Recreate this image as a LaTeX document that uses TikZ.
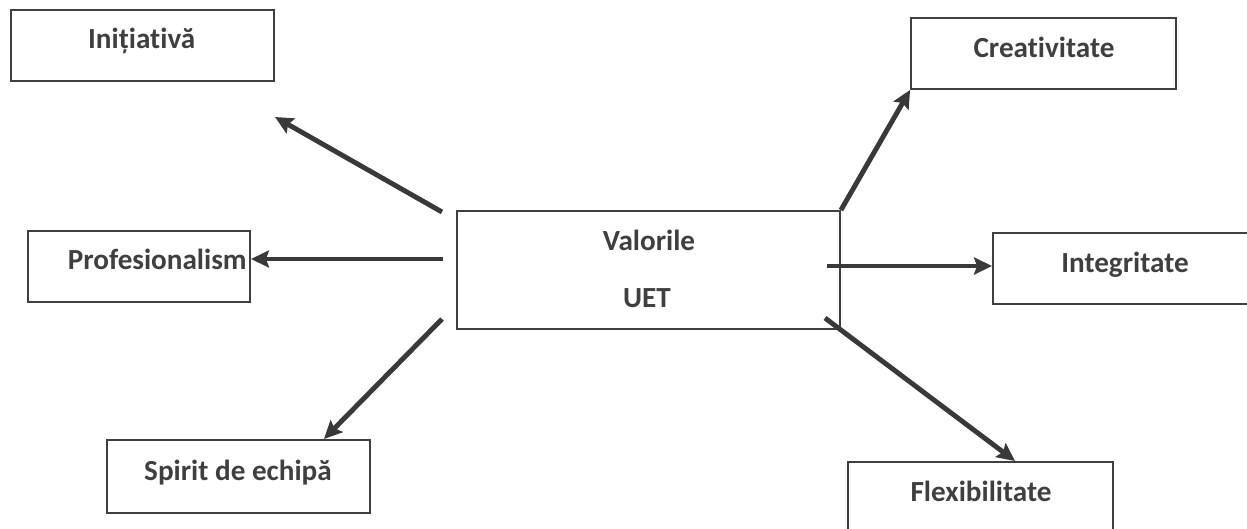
\documentclass[tikz,border=0pt]{standalone}
\usepackage{fontspec}
\setmainfont{Carlito}[Ligatures=NoCommon]
\usetikzlibrary{arrows.meta}
\definecolor{inkgray}{HTML}{3F3F3F}
\tikzset{
    valbox/.style={draw=inkgray, line width=1.1pt, fill=none, inner sep=0pt},
    valtext/.style={anchor=base, text=inkgray, font=\fontsize{16.6}{20}\selectfont\bfseries, inner sep=0pt},
    valarrow/.style={draw=inkgray!90!black, line width=2.8pt, -{Stealth[length=3.6mm,width=3.4mm,inset=0.6mm]}}
}

\begin{document}
\begin{tikzpicture}[x=0.02cm,y=-0.02cm]
    \useasboundingbox (0,0) rectangle (1247,528);
    \clip (0,0) rectangle (1247,528);
    \node[valbox, minimum width=5.26cm, minimum height=1.42cm] (init) at (142.5,45.5) {};
    \node[valbox, minimum width=5.30cm, minimum height=1.42cm] (creat) at (1043.5,53.5) {};
    \node[valbox, minimum width=4.44cm, minimum height=1.42cm] (prof) at (139,266.5) {};
    \node[valbox, minimum width=7.66cm, minimum height=2.36cm] (uet) at (648.5,270) {};
    \node[valbox, minimum width=5.40cm, minimum height=1.42cm] (integ) at (1128,268.5) {};
    \node[valbox, minimum width=5.26cm, minimum height=1.46cm] (spirit) at (238.5,476.5) {};
    \node[valbox, minimum width=5.30cm, minimum height=1.42cm] (flex) at (980.5,497.5) {};
    \node[valtext] (initTxt) at (141.7,48) {Inițiativă};
    \node[valtext] (creatTxt) at (1044,57) {Creativitate};
    \node[valtext, anchor=base east] (profTxt) at (247,269) {Profesionalism};
    \node[valtext] (uetTxtA) at (649,250) {Valorile};
    \node[valtext] (uetTxtB) at (647,307) {UET};
    \node[valtext] (integTxt) at (1125,272) {Integritate};
    \node[valtext] (spiritTxt) at (238,480) {Spirit de echipă};
    \node[valtext] (flexTxt) at (981,501) {Flexibilitate};
    \coordinate (initTail) at (442,212);
    \coordinate (initTip) at (275,117);
    \coordinate (profTail) at (443,259);
    \coordinate (spiritTail) at (442,319);
    \coordinate (spiritTip) at (324,439);
    \coordinate (integTail) at (827,266);
    \coordinate (flexTail) at (825,318);
    \coordinate (flexTip) at (1015,461);
    \draw[valarrow] (initTail) -- (initTip);
    \draw[valarrow] (profTail) -- (prof.east |- profTail);
    \draw[valarrow] (spiritTail) -- (spiritTip);
    \draw[valarrow] (uet.north east) -- (creat.south west);
    \draw[valarrow] (integTail) -- (integ.west |- integTail);
    \draw[valarrow] (flexTail) -- (flexTip);
\end{tikzpicture}
\end{document}
